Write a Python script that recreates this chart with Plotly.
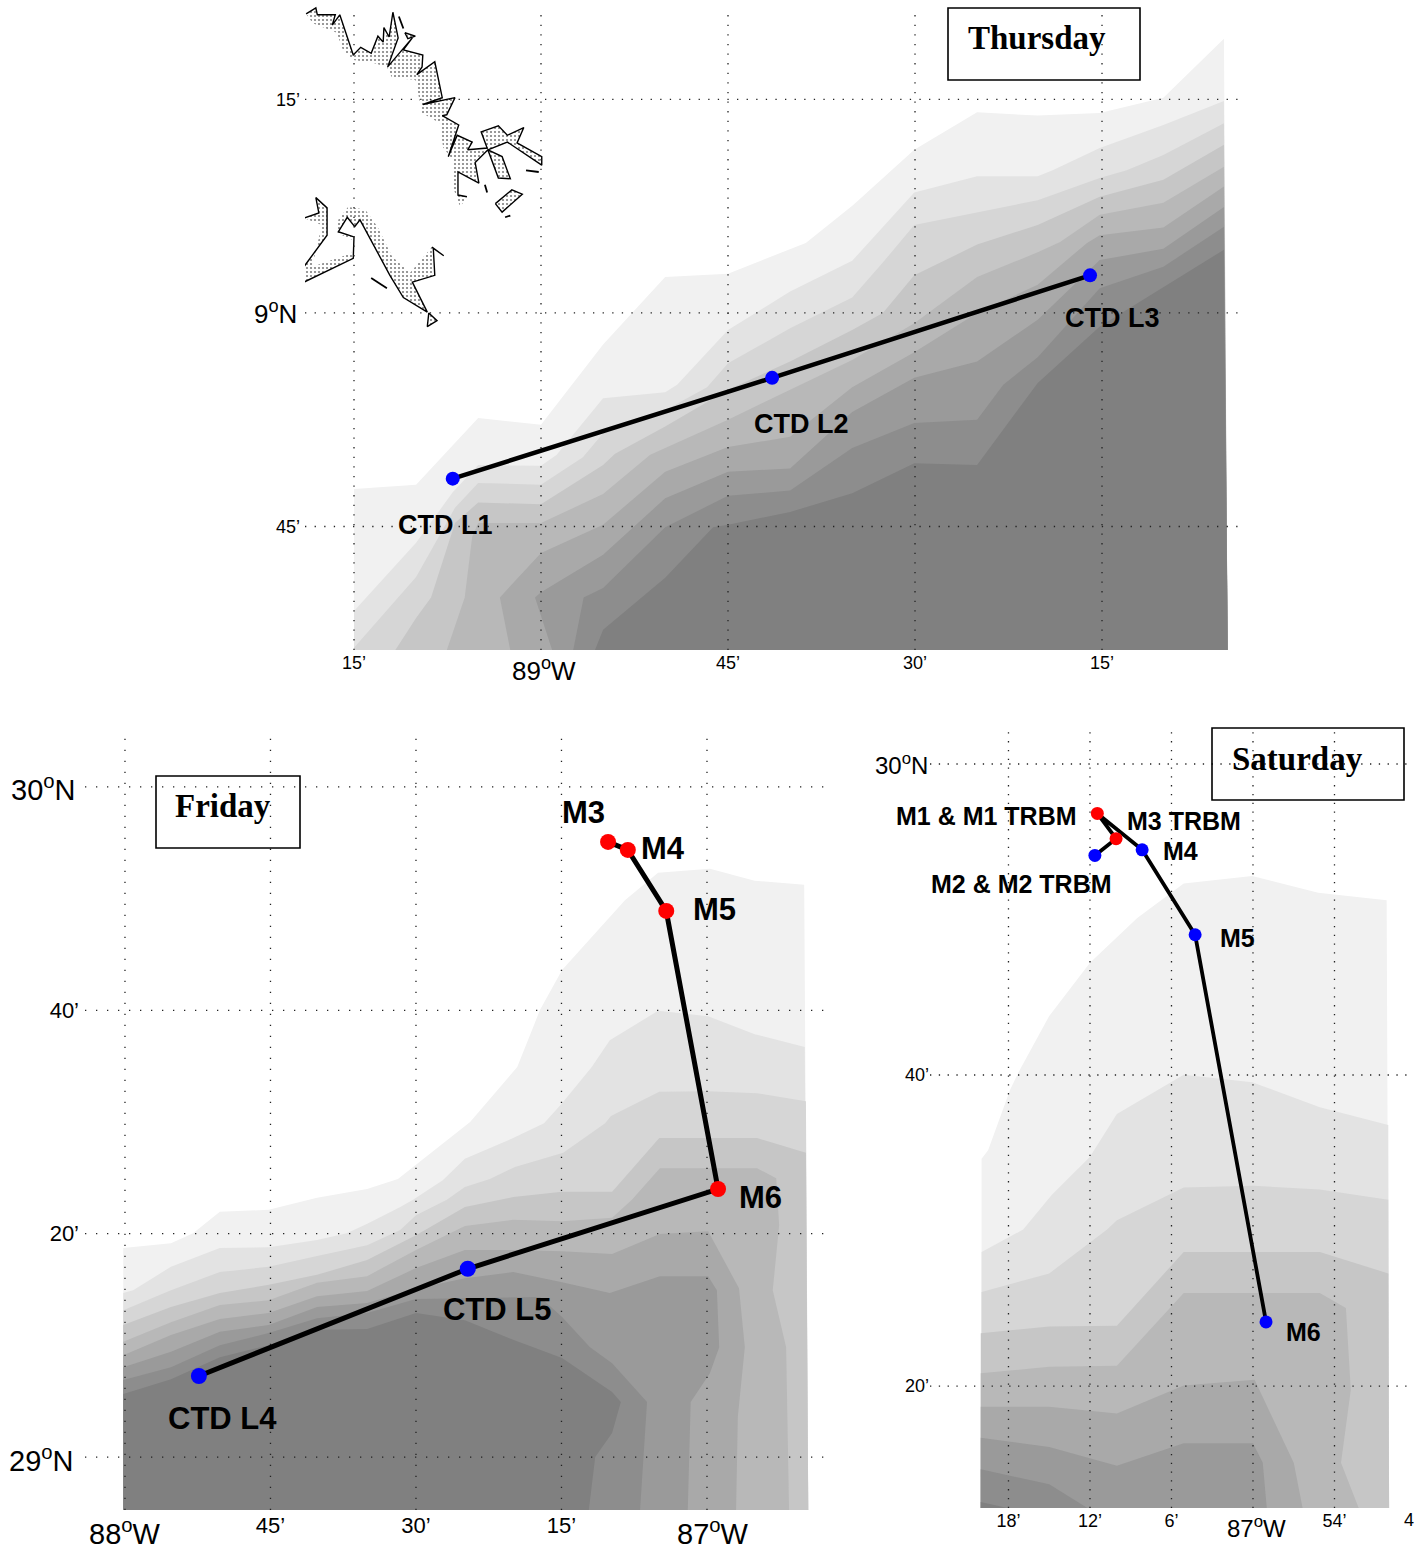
import plotly.graph_objects as go

W, H = 1426, 1549
SANS = "Liberation Sans"
SERIF = "Liberation Serif"
GREYS = ["#f1f1f1", "#e3e3e3", "#d6d6d6", "#c6c6c6", "#b8b8b8", "#a9a9a9", "#9a9a9a", "#8d8d8d", "#808080"]

# ---------- Thursday: shaded depth bands (lon, lat of the upper edge of each band)
thu_lon_1 = [-89.25,-89.167,-89.084,-89.0,-88.917,-88.834,-88.75,-88.646,-88.583,-88.501,-88.417,-88.336,-88.253,-88.168,-88.087]
thu_lat_1 = [28.794,28.799,28.877,28.869,28.963,29.042,29.046,29.082,29.126,29.191,29.235,29.231,29.234,29.252,29.321]
thu_lon_2 = [-89.25,-89.167,-89.118,-89.084,-89.0,-88.979,-88.917,-88.834,-88.818,-88.75,-88.667,-88.584,-88.501,-88.417,-88.336,-88.316,-88.253,-88.168,-88.087]
thu_lat_2 = [28.651,28.731,28.790,28.822,28.821,28.834,28.900,28.907,28.916,28.980,29.025,29.061,29.141,29.160,29.160,29.167,29.193,29.220,29.248]
thu_lon_3 = [-89.25,-89.167,-89.147,-89.115,-89.084,-89.0,-88.944,-88.917,-88.834,-88.778,-88.75,-88.667,-88.584,-88.543,-88.501,-88.417,-88.336,-88.253,-88.217,-88.168,-88.087]
thu_lat_3 = [28.608,28.691,28.722,28.772,28.801,28.799,28.831,28.859,28.886,28.913,28.941,28.982,29.018,29.059,29.103,29.118,29.132,29.158,29.167,29.185,29.222]
thu_lon_4 = [-89.195,-89.167,-89.147,-89.115,-89.084,-89.0,-88.917,-88.901,-88.834,-88.75,-88.667,-88.584,-88.543,-88.501,-88.417,-88.336,-88.253,-88.168,-88.087]
thu_lat_4 = [28.605,28.643,28.667,28.754,28.778,28.776,28.822,28.835,28.867,28.910,28.943,28.980,29.000,29.044,29.080,29.103,29.136,29.156,29.197]
thu_lon_5 = [-89.126,-89.102,-89.092,-89.084,-89.0,-88.917,-88.854,-88.75,-88.667,-88.584,-88.501,-88.417,-88.336,-88.306,-88.253,-88.168,-88.087]
thu_lat_5 = [28.605,28.667,28.738,28.754,28.754,28.788,28.834,28.875,28.910,28.945,28.988,29.042,29.071,29.083,29.115,29.129,29.171]
thu_lon_6 = [-89.041,-89.055,-89.0,-88.917,-88.834,-88.75,-88.667,-88.584,-88.501,-88.417,-88.336,-88.270,-88.253,-88.168,-88.087]
thu_lat_6 = [28.605,28.667,28.719,28.752,28.814,28.843,28.855,28.913,28.954,29.000,29.033,29.082,29.091,29.100,29.148]
thu_lon_7 = [-88.985,-89.008,-89.0,-88.917,-88.834,-88.75,-88.667,-88.584,-88.501,-88.417,-88.336,-88.253,-88.168,-88.087]
thu_lat_7 = [28.605,28.667,28.673,28.717,28.783,28.814,28.818,28.884,28.924,28.943,28.992,29.062,29.075,29.124]
thu_lon_8 = [-88.957,-88.943,-88.917,-88.834,-88.75,-88.667,-88.584,-88.501,-88.417,-88.382,-88.336,-88.253,-88.168,-88.087]
thu_lat_8 = [28.605,28.667,28.678,28.749,28.786,28.792,28.842,28.871,28.875,28.916,28.948,29.029,29.054,29.101]
thu_lon_9 = [-88.928,-88.917,-88.834,-88.770,-88.75,-88.667,-88.584,-88.501,-88.417,-88.336,-88.253,-88.168,-88.087]
thu_lat_9 = [28.605,28.629,28.690,28.749,28.752,28.767,28.789,28.824,28.822,28.918,28.984,29.030,29.074]

# ---------- Friday bands
C = [-88.003,-87.921,-87.837,-87.753,-87.670,-87.584,-87.500,-87.416,-87.333]
fri_lon_1 = [-88.003,-87.921,-87.883,-87.837,-87.753,-87.670,-87.584,-87.531,-87.407,-87.326,-87.287,-87.249,-87.141,-87.084,-86.995,-86.918,-86.833]
fri_lat_1 = [29.312,29.319,29.334,29.366,29.369,29.387,29.400,29.415,29.500,29.582,29.667,29.727,29.831,29.872,29.878,29.860,29.854]
fri_lon_2 = [-88.003,-87.986,-87.921,-87.837,-87.753,-87.670,-87.619,-87.582,-87.527,-87.505,-87.454,-87.416,-87.333,-87.280,-87.249,-87.198,-87.167,-87.084,-86.998,-86.918,-86.832]
fri_lat_2 = [29.245,29.249,29.284,29.312,29.313,29.324,29.334,29.349,29.373,29.384,29.413,29.445,29.476,29.498,29.528,29.582,29.622,29.666,29.658,29.631,29.612]
fri_lon_3 = [-88.003,-87.921,-87.837,-87.753,-87.670,-87.584,-87.527,-87.500,-87.447,-87.416,-87.373,-87.330,-87.247,-87.175,-87.165,-87.082,-86.998,-86.914,-86.830]
fri_lat_3 = [29.219,29.249,29.276,29.284,29.300,29.316,29.339,29.361,29.384,29.403,29.415,29.433,29.454,29.498,29.509,29.545,29.546,29.543,29.531]
fri_lon_4 = C + [-87.249,-87.163,-87.082,-86.914,-86.830]
fri_lat_4 = [29.197,29.224,29.245,29.257,29.272,29.294,29.331,29.373,29.388,29.396,29.396,29.476,29.476,29.454]
fri_lon_5 = C + [-87.249,-87.163,-87.129,-87.081,-86.914,-86.881,-86.876,-86.887,-86.864,-86.859]
fri_lat_5 = [29.172,29.201,29.227,29.234,29.260,29.270,29.309,29.345,29.354,29.352,29.357,29.384,29.431,29.431,29.416,29.346,29.249,29.164,28.921]
fri_lon_6 = C + [-87.249,-87.163,-87.081,-86.998,-86.945,-86.935,-86.947,-86.950]
fri_lat_6 = [29.152,29.182,29.206,29.215,29.240,29.248,29.282,29.309,29.309,29.307,29.303,29.333,29.337,29.252,29.164,29.060,28.921]
fri_lon_7 = C + [-87.249,-87.167,-87.163,-87.081,-86.998,-86.983,-86.979,-86.995,-87.028,-87.033]
fri_lat_7 = [29.134,29.157,29.187,29.197,29.224,29.230,29.251,29.267,29.276,29.261,29.245,29.246,29.270,29.270,29.249,29.164,29.125,29.082,28.921]
fri_lon_8 = C + [-87.287,-87.249,-87.201,-87.163,-87.103,-87.115]
fri_lat_8 = [29.115,29.134,29.167,29.185,29.207,29.215,29.236,29.237,29.239,29.239,29.209,29.164,29.140,29.082,28.921]
fri_lon_9 = C + [-87.249,-87.163,-87.148,-87.163,-87.192,-87.203]
fri_lat_9 = [29.094,29.116,29.149,29.167,29.190,29.191,29.215,29.204,29.175,29.148,29.097,29.082,29.036,29.000,28.921]

# ---------- Saturday bands
sat_lon_1 = [-87.333,-87.325,-87.298,-87.288,-87.250,-87.200,-87.142,-87.085,-87.001,-86.920,-86.836]
sat_lat_1 = [29.577,29.586,29.651,29.669,29.730,29.787,29.835,29.872,29.880,29.862,29.854]
sat_lon_2 = [-87.333,-87.282,-87.247,-87.200,-87.167,-87.085,-87.001,-86.918,-86.834]
sat_lat_2 = [29.477,29.501,29.538,29.579,29.625,29.667,29.659,29.632,29.613]
sat_lon_3 = [-87.333,-87.250,-87.179,-87.167,-87.085,-87.0,-86.918,-86.834]
sat_lat_3 = [29.434,29.454,29.501,29.511,29.546,29.548,29.544,29.533]
sat_lon_4 = [-87.334,-87.250,-87.167,-87.085,-86.918,-86.834]
sat_lat_4 = [29.390,29.397,29.398,29.477,29.477,29.454]
sat_lon_5 = [-87.334,-87.250,-87.167,-87.085,-86.918,-86.886,-86.880,-86.892,-86.870]
sat_lat_5 = [29.347,29.354,29.355,29.433,29.433,29.417,29.329,29.251,29.202]
sat_lon_6 = [-87.334,-87.250,-87.167,-87.085,-86.998,-86.950,-86.939]
sat_lat_6 = [29.311,29.311,29.304,29.334,29.340,29.251,29.202]
sat_lon_7 = [-87.334,-87.250,-87.167,-87.085,-87.0,-86.988,-86.983]
sat_lat_7 = [29.278,29.268,29.248,29.272,29.272,29.251,29.202]
sat_lon_8 = [-87.334,-87.250,-87.202]
sat_lat_8 = [29.244,29.228,29.202]
sat_lon_9 = [-87.334,-87.298]
sat_lat_9 = [29.209,29.202]

# ---------- Thursday coast (outline, and the inland edge of the stippled strip)
coast_n_lon = [-89.314,-89.301,-89.299,-89.275,-89.279,-89.269,-89.251,-89.241,-89.227,-89.218,-89.211,-89.210,-89.203,-89.198,-89.191,-89.205,-89.172,-89.184,-89.158,-89.159,-89.166,-89.142,-89.132,-89.158,-89.115,-89.126,-89.132,-89.110,-89.124,-89.112,-89.092,-89.098,-89.072,-89.080,-89.057,-89.045,-89.023,-89.032,-88.999,-88.999,-89.045,-89.071,-89.057,-89.041,-89.052,-89.071,-89.088,-89.083,-89.111,-89.111,-89.099]
coast_n_lat = [29.350,29.357,29.349,29.349,29.337,29.349,29.302,29.311,29.304,29.324,29.317,29.334,29.323,29.352,29.322,29.288,29.322,29.308,29.302,29.288,29.279,29.294,29.252,29.244,29.252,29.232,29.231,29.220,29.183,29.208,29.200,29.191,29.193,29.212,29.219,29.208,29.217,29.199,29.183,29.173,29.200,29.191,29.158,29.157,29.183,29.191,29.176,29.152,29.165,29.138,29.136]
inland_n_lon = [-89.108,-89.118,-89.118,-89.131,-89.135,-89.159,-89.168,-89.199,-89.206,-89.225,-89.251,-89.265,-89.273,-89.305]
inland_n_lat = [29.124,29.148,29.179,29.194,29.222,29.234,29.273,29.275,29.288,29.293,29.296,29.308,29.328,29.339]
coast_s_lon = [-89.317,-89.297,-89.301,-89.286,-89.286,-89.317,-89.317,-89.251,-89.250,-89.271,-89.259,-89.249,-89.242,-89.202,-89.184,-89.152,-89.172,-89.142,-89.144,-89.130,-89.146]
coast_s_lat = [29.111,29.117,29.135,29.123,29.091,29.054,29.036,29.064,29.089,29.095,29.112,29.101,29.109,29.044,29.018,29.001,29.036,29.044,29.076,29.067,29.077]
inland_s_lon = [-89.175,-89.199,-89.218,-89.235,-89.258,-89.271,-89.273,-89.251,-89.253,-89.306,-89.293]
inland_s_lat = [29.047,29.066,29.100,29.121,29.124,29.109,29.094,29.085,29.070,29.054,29.103]
isle_e_lon = [-89.061,-89.039,-89.025,-89.052,-89.061]
isle_e_lat = [29.128,29.144,29.139,29.118,29.128]
isle_b_lon = [-89.182,-89.168,-89.178,-89.182]
isle_b_lat = [29.328,29.324,29.321,29.328]
isle_t_lon = [-89.150,-89.139,-89.152,-89.150]
isle_t_lat = [29.000,28.991,28.984,29.000]
tick_lon = [-89.190,-89.184,None,-89.020,-89.003,None,-89.075,-89.072,None,-89.048,-89.041,None,-89.227,-89.206]
tick_lat = [29.347,29.333,None,29.167,29.165,None,29.150,29.141,None,29.112,29.114,None,29.041,29.029]

# ---------- Stations
thu_st_lon = [-89.118,-88.691,-88.266]
thu_st_lat = [28.806,28.924,29.044]
thu_st_col = ["blue","blue","blue"]
fri_st_lon = [-87.873,-87.411,-86.981,-87.070,-87.136,-87.170]
fri_st_lat = [29.121,29.281,29.400,29.815,29.906,29.918]
fri_st_col = ["blue","blue","red","red","red","red"]
sat_st_lon = [-87.194,-87.168,-87.191,-87.136,-87.071,-86.984]
sat_st_lat = [29.902,29.920,29.947,29.908,29.817,29.402]
sat_st_col = ["blue","red","red","blue","blue","blue"]

# ---------- Graticule and tick labels
thu_grid_lon = [-89.25,-89.0,-88.75,-88.5,-88.25]
thu_grid_lat = [29.25,29.0,28.75]
fri_grid_lon = [-88.0,-87.75,-87.5,-87.25,-87.0]
fri_grid_lat = [30.0,29.6667,29.3333,29.0]
sat_grid_lon = [-87.3,-87.2,-87.1,-87.0,-86.9]
sat_grid_lat = [30.0,29.6667,29.3333]

thu_xt_val = [-89.25,-88.75,-88.5,-88.25]
thu_xt_txt = ["15’","45’","30’","15’"]
fri_xt_val = [-87.75,-87.5,-87.25]
fri_xt_txt = ["45’","30’","15’"]
sat_xt_val = [-87.3,-87.2,-87.1,-86.9]
sat_xt_txt = ["18’","12’","6’","54’"]

thu_yt_val = [29.25,28.75]
thu_yt_txt = ["15’","45’"]
fri_yt_val = [29.6667,29.3333]
fri_yt_txt = ["40’","20’"]
sat_yt_val = [29.6667,29.3333]
sat_yt_txt = ["40’","20’"]

THU = [(thu_lon_1,thu_lat_1),(thu_lon_2,thu_lat_2),(thu_lon_3,thu_lat_3),(thu_lon_4,thu_lat_4),(thu_lon_5,thu_lat_5),(thu_lon_6,thu_lat_6),(thu_lon_7,thu_lat_7),(thu_lon_8,thu_lat_8),(thu_lon_9,thu_lat_9)]
FRI = [(fri_lon_1,fri_lat_1),(fri_lon_2,fri_lat_2),(fri_lon_3,fri_lat_3),(fri_lon_4,fri_lat_4),(fri_lon_5,fri_lat_5),(fri_lon_6,fri_lat_6),(fri_lon_7,fri_lat_7),(fri_lon_8,fri_lat_8),(fri_lon_9,fri_lat_9)]
SAT = [(sat_lon_1,sat_lat_1),(sat_lon_2,sat_lat_2),(sat_lon_3,sat_lat_3),(sat_lon_4,sat_lat_4),(sat_lon_5,sat_lat_5),(sat_lon_6,sat_lat_6),(sat_lon_7,sat_lat_7),(sat_lon_8,sat_lat_8),(sat_lon_9,sat_lat_9)]

fig = go.Figure()

def add_panel(bands, lon_r, lat_b, xa, ya, grid_lon, grid_lat, xr, yr, dash, st_lon, st_lat, st_col, lw, ms, coast=False):
    for (lon, lat), col in zip(bands, GREYS):
        if lat[-1] <= lat_b + 0.002:
            xs = lon + [lon[0]]
            ys = lat + [lat_b]
        else:
            xs = lon + [lon_r, lon[0]]
            ys = lat + [lat_b, lat_b]
        fig.add_trace(go.Scatter(x=xs, y=ys, mode="lines", line=dict(width=0), fill="toself",
                                 fillcolor=col, xaxis=xa, yaxis=ya, hoverinfo="skip"))
    if coast:
        stip = dict(shape=".", size=4, solidity=0.22, fgcolor="black", bgcolor="white")
        for lon, lat in [(coast_n_lon + inland_n_lon, coast_n_lat + inland_n_lat),
                         (coast_s_lon + inland_s_lon, coast_s_lat + inland_s_lat),
                         (isle_e_lon, isle_e_lat), (isle_b_lon, isle_b_lat), (isle_t_lon, isle_t_lat)]:
            fig.add_trace(go.Scatter(x=lon, y=lat, mode="lines", line=dict(width=0),
                                     fill="toself", fillcolor="white", fillpattern=stip,
                                     xaxis=xa, yaxis=ya, hoverinfo="skip"))
        for lon, lat in [(coast_n_lon, coast_n_lat), (coast_s_lon, coast_s_lat), (isle_e_lon, isle_e_lat),
                         (isle_b_lon, isle_b_lat), (isle_t_lon, isle_t_lat)]:
            fig.add_trace(go.Scatter(x=lon, y=lat, mode="lines", line=dict(width=1.4, color="black"),
                                     xaxis=xa, yaxis=ya, hoverinfo="skip"))
        fig.add_trace(go.Scatter(x=tick_lon, y=tick_lat, mode="lines", line=dict(width=1.8, color="black"),
                                 xaxis=xa, yaxis=ya, hoverinfo="skip"))
    gx, gy = [], []
    for v in grid_lon:
        gx += [v, v, None]
        gy += [yr[0], yr[1], None]
    for v in grid_lat:
        gx += [xr[0], xr[1], None]
        gy += [v, v, None]
    fig.add_trace(go.Scatter(x=gx, y=gy, mode="lines", line=dict(width=1.3, color="#222222", dash=dash),
                             xaxis=xa, yaxis=ya, hoverinfo="skip"))
    fig.add_trace(go.Scatter(x=st_lon, y=st_lat, mode="lines+markers", line=dict(width=lw, color="black"),
                             marker=dict(size=ms, color=st_col), xaxis=xa, yaxis=ya, hoverinfo="skip"))

add_panel(THU, -88.082, 28.605, "x", "y", thu_grid_lon, thu_grid_lat, (-89.3155,-88.0682), (28.6054,29.350),
          "1.3px,8.3px", thu_st_lon, thu_st_lat, thu_st_col, 4.5, 14, coast=True)
add_panel(FRI, -86.826, 28.921, "x2", "y2", fri_grid_lon, fri_grid_lat, (-88.0687,-86.7852), (28.921,30.085),
          "1.3px,9.7px", fri_st_lon, fri_st_lat, fri_st_col, 5, 16)
add_panel(SAT, -86.833, 29.2026, "x3", "y3", sat_grid_lon, sat_grid_lat, (-87.3963,-86.8098), (29.2026,30.0386),
          "1.3px,7.5px", sat_st_lon, sat_st_lat, sat_st_col, 3.8, 13)

def dom_x(a, b):
    return [a / W, b / W]

def dom_y(a, b):
    return [1 - b / H, 1 - a / H]

def xax(dom, rng, vals, txt, fs, anchor):
    return dict(domain=dom, range=rng, anchor=anchor, tickmode="array", tickvals=vals, ticktext=txt,
                tickfont=dict(family=SANS, size=fs, color="black"), ticks="", tickangle=0,
                showgrid=False, zeroline=False, showline=False)

def yax(dom, rng, vals, txt, fs, anchor, off):
    return dict(domain=dom, range=rng, anchor=anchor, tickmode="array", tickvals=vals, ticktext=txt,
                tickfont=dict(family=SANS, size=fs, color="black"), ticks="", ticklabelstandoff=off,
                showgrid=False, zeroline=False, showline=False)

def label(txt, px, py, fs, bold=True, fam=SANS):
    t = f"<b>{txt}</b>" if bold else txt
    return dict(text=t, x=px / W, y=1 - py / H, xref="paper", yref="paper", xanchor="center", yanchor="middle",
                showarrow=False, font=dict(family=fam, size=fs, color="black"))

def box(x0, y0, x1, y1):
    return dict(type="rect", xref="paper", yref="paper", x0=x0 / W, x1=x1 / W, y0=1 - y0 / H, y1=1 - y1 / H,
                line=dict(color="black", width=1.6), fillcolor="rgba(0,0,0,0)", layer="above")

annotations = [
    label("CTD L1", 445, 525, 27), label("CTD L2", 801, 424, 27), label("CTD L3", 1112, 318, 27),
    label("CTD L4", 222, 1418, 31), label("CTD L5", 497, 1309, 31),
    label("M3", 583, 812, 31), label("M4", 663, 848, 31), label("M5", 714, 909, 31), label("M6", 760, 1197, 31),
    label("M1 &amp; M1 TRBM", 986, 816, 25), label("M3 TRBM", 1184, 821, 25), label("M4", 1180, 851, 25),
    label("M2 &amp; M2 TRBM", 1021, 884, 25), label("M5", 1237, 938, 25), label("M6", 1303, 1332, 25),
    label("Thursday", 1037, 38, 33, fam=SERIF), label("Friday", 223, 806, 33, fam=SERIF), label("Saturday", 1297, 759, 33, fam=SERIF),
    label("89<sup>o</sup>W", 544, 670, 26, bold=False), label("88<sup>o</sup>W", 125, 1532, 29, bold=False),
    label("87<sup>o</sup>W", 713, 1532, 29, bold=False), label("87<sup>o</sup>W", 1256, 1527, 24, bold=False),
    label("9<sup>o</sup>N", 275, 313, 26, bold=False), label("30<sup>o</sup>N", 43, 788, 29, bold=False),
    label("29<sup>o</sup>N", 41, 1459, 29, bold=False), label("30<sup>o</sup>N", 901, 764, 24, bold=False),
    label("4", 1409, 1520, 18, bold=False),
]

fig.update_layout(
    width=W, height=H, margin=dict(l=0, r=0, t=0, b=0), paper_bgcolor="white", plot_bgcolor="rgba(0,0,0,0)",
    showlegend=False, annotations=annotations,
    shapes=[box(948, 8, 1140, 80), box(156, 776, 300, 848), box(1212, 728, 1404, 800)],
    xaxis=xax(dom_x(305,1238), [-89.3155,-88.0682], thu_xt_val, thu_xt_txt, 18, "y"),
    yaxis=yax(dom_y(2,650), [28.6054,29.364], thu_yt_val, thu_yt_txt, 18, "x", 4),
    xaxis2=xax(dom_x(85,832), [-88.0687,-86.7852], fri_xt_val, fri_xt_txt, 22, "y2"),
    yaxis2=yax(dom_y(730,1510), [28.921,30.085], fri_yt_val, fri_yt_txt, 22, "x2", 5),
    xaxis3=xax(dom_x(930,1408), [-87.3963,-86.8098], sat_xt_val, sat_xt_txt, 18, "y3"),
    yaxis3=yax(dom_y(728,1508), [29.2026,30.0386], sat_yt_val, sat_yt_txt, 18, "x3", 0),
)

fig.write_html("out.html", config=dict(displayModeBar=False), post_script="document.body.style.margin='0';")
